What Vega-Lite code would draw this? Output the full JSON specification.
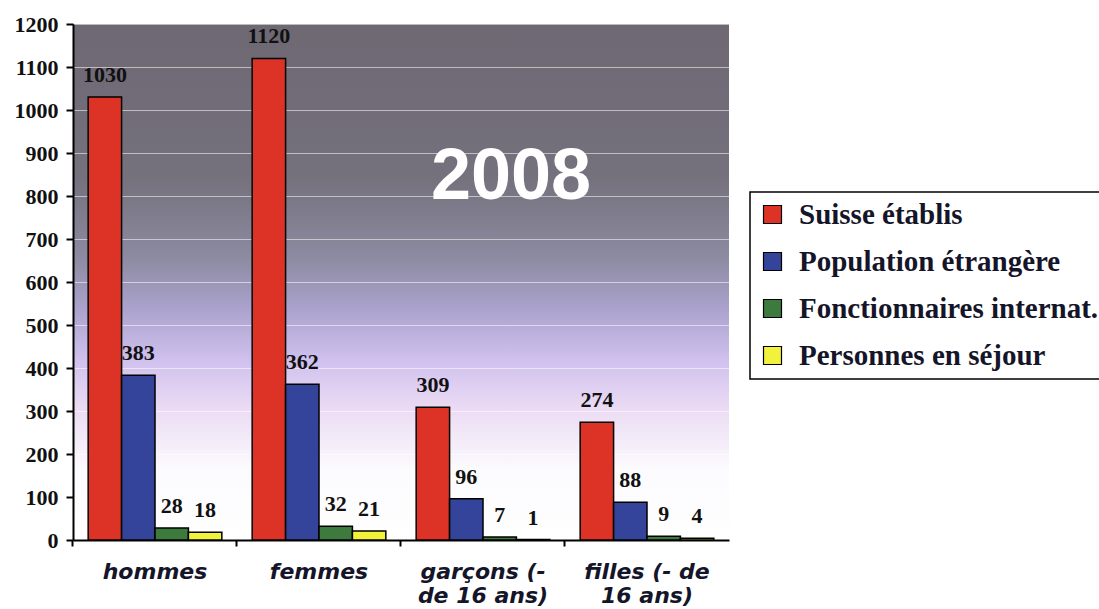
{
  "$schema": "https://vega.github.io/schema/vega-lite/v6.json",
  "autosize": {"type": "none"},
  "width": 656,
  "height": 516,
  "padding": {"left": 73, "top": 24, "right": 370, "bottom": 69},
  "background": "#ffffff",
  "config": {
    "view": {
      "stroke": null,
      "fill": {
        "gradient": "linear", "x1": 0, "y1": 0, "x2": 0, "y2": 1,
        "stops": [
          {"offset": 0, "color": "#6d6872"},
          {"offset": 0.3, "color": "#75717d"},
          {"offset": 0.45, "color": "#8c8aa0"},
          {"offset": 0.55, "color": "#aaa2cc"},
          {"offset": 0.65, "color": "#cfc0ee"},
          {"offset": 0.75, "color": "#ecdcf4"},
          {"offset": 0.86, "color": "#fbfafd"},
          {"offset": 1, "color": "#ffffff"}
        ]
      }
    },
    "legend": {"strokeColor": "#000000", "strokeWidth": 1.5, "fillColor": "#ffffff"}
  },
  "data": {
    "values": [
      {"groupe": "hommes", "serie": "Suisse établis", "valeur": 1030},
      {"groupe": "hommes", "serie": "Population étrangère", "valeur": 383},
      {"groupe": "hommes", "serie": "Fonctionnaires internat.", "valeur": 28},
      {"groupe": "hommes", "serie": "Personnes en séjour", "valeur": 18},
      {"groupe": "femmes", "serie": "Suisse établis", "valeur": 1120},
      {"groupe": "femmes", "serie": "Population étrangère", "valeur": 362},
      {"groupe": "femmes", "serie": "Fonctionnaires internat.", "valeur": 32},
      {"groupe": "femmes", "serie": "Personnes en séjour", "valeur": 21},
      {"groupe": "garçons (- de 16 ans)", "serie": "Suisse établis", "valeur": 309},
      {"groupe": "garçons (- de 16 ans)", "serie": "Population étrangère", "valeur": 96},
      {"groupe": "garçons (- de 16 ans)", "serie": "Fonctionnaires internat.", "valeur": 7},
      {"groupe": "garçons (- de 16 ans)", "serie": "Personnes en séjour", "valeur": 1},
      {"groupe": "filles (- de 16 ans)", "serie": "Suisse établis", "valeur": 274},
      {"groupe": "filles (- de 16 ans)", "serie": "Population étrangère", "valeur": 88},
      {"groupe": "filles (- de 16 ans)", "serie": "Fonctionnaires internat.", "valeur": 9},
      {"groupe": "filles (- de 16 ans)", "serie": "Personnes en séjour", "valeur": 4}
    ]
  },
  "encoding": {
    "x": {
      "field": "groupe", "type": "nominal", "sort": null,
      "scale": {"paddingInner": 0.185, "paddingOuter": 0.0925},
      "axis": {
        "title": null, "labelAngle": 0, "bandPosition": -0.1135,
        "domainColor": "#000000", "domainWidth": 2,
        "tickColor": "#000000", "tickWidth": 2, "tickSize": 6,
        "labelFont": "DejaVu Sans", "labelFontWeight": "bold", "labelFontStyle": "italic",
        "labelFontSize": 22, "labelColor": "#15152a", "labelPadding": 15, "labelLineHeight": 24,
        "labelExpr": "datum.value == 'garçons (- de 16 ans)' ? ['garçons (-', 'de 16 ans)'] : datum.value == 'filles (- de 16 ans)' ? ['filles (- de', '16 ans)'] : datum.value",
        "labelBaseline": "top"
      }
    },
    "y": {
      "field": "valeur", "type": "quantitative",
      "scale": {"domain": [0, 1200], "nice": false},
      "axis": {
        "title": null, "values": [0,100,200,300,400,500,600,700,800,900,1000,1100,1200],
        "format": "d",
        "domainColor": "#000000", "domainWidth": 2,
        "tickColor": "#000000", "tickWidth": 2, "tickSize": 7,
        "labelFont": "Liberation Serif", "labelFontWeight": "bold", "labelFontSize": 22,
        "labelColor": "#111111", "labelPadding": 8,
        "grid": true, "gridColor": "#ffffff", "gridOpacity": 0.55, "gridWidth": 1
      }
    }
  },
  "layer": [
    {
      "mark": {"type": "bar", "stroke": "#000000", "strokeWidth": 1.5},
      "encoding": {
        "xOffset": {"field": "serie", "type": "nominal", "sort": null},
        "color": {
          "field": "serie", "type": "nominal", "sort": null,
          "scale": {
            "domain": ["Suisse établis", "Population étrangère", "Fonctionnaires internat.", "Personnes en séjour"],
            "range": ["#dc3326", "#33449a", "#3d7a3d", "#f2f23c"]
          },
          "legend": {
            "title": null, "orient": "none", "legendX": 677, "legendY": 168,
            "symbolType": "square", "symbolSize": 324, "symbolStrokeColor": "#000000", "symbolStrokeWidth": 1.2,
            "symbolOpacity": 1,
            "labelFont": "Liberation Serif", "labelFontWeight": "bold", "labelFontSize": 29,
            "labelColor": "#15152a", "labelLimit": 500, "labelOffset": 12,
            "rowPadding": 17, "padding": 8
          }
        }
      }
    },
    {
      "mark": {"type": "text", "baseline": "middle", "dy": -22, "font": "Liberation Serif", "fontWeight": "bold", "fontSize": 22, "color": "#111111"},
      "encoding": {
        "xOffset": {"field": "serie", "type": "nominal", "sort": null},
        "text": {"field": "valeur", "type": "quantitative"}
      }
    },
    {
      "data": {"values": [{"annee": "2008", "groupe": "garçons (- de 16 ans)", "valeur": 844}]},
      "mark": {"type": "text", "baseline": "middle", "align": "center", "dx": 28, "font": "Liberation Sans", "fontWeight": "bold", "fontSize": 72, "color": "#ffffff"},
      "encoding": {
        "text": {"field": "annee", "type": "nominal"}
      }
    }
  ]
}
